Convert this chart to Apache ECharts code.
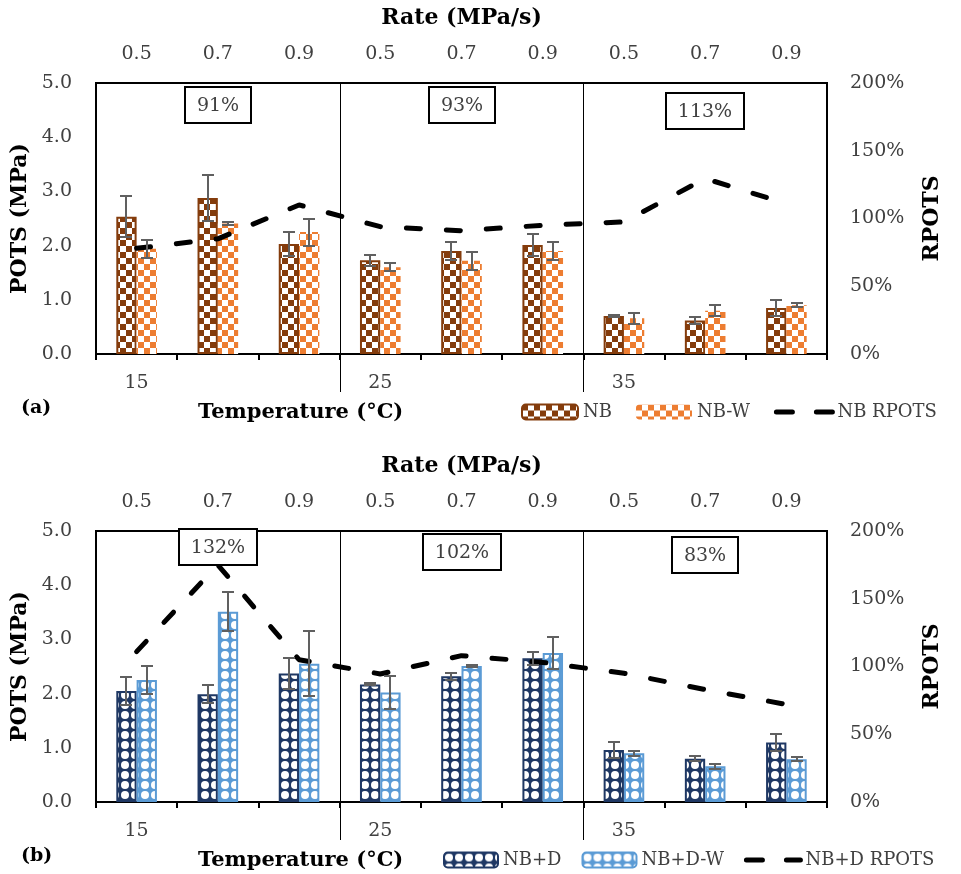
<!DOCTYPE html>
<html>
<head>
<meta charset="utf-8">
<script src="https://cdn.jsdelivr.net/npm/echarts@6/dist/echarts.min.js"></script>
<style>
html,body{margin:0;padding:0;background:#fff;}
#main{width:961px;height:874px;}
</style>
</head>
<body>
<div id="main"></div>
<script>
// ---------- data ----------
const categories = ['15-0.5','15-0.7','15-0.9','25-0.5','25-0.7','25-0.9','35-0.5','35-0.7','35-0.9'];
const rateLabels = ['0.5','0.7','0.9','0.5','0.7','0.9','0.5','0.7','0.9'];
const tempLabels = ['15','','','25','','','35','',''];
const groupStarts = [3, 6];

// (a)
const nbPots     = [2.53, 2.88, 2.03, 1.73, 1.90, 2.01, 0.70, 0.62, 0.85];
const nbPotsErr  = [0.38, 0.43, 0.23, 0.10, 0.17, 0.20, 0.02, 0.07, 0.14];
const nbwPots    = [1.94, 2.41, 2.25, 1.60, 1.72, 1.90, 0.66, 0.80, 0.90];
const nbwPotsErr = [0.16, 0.03, 0.25, 0.07, 0.17, 0.17, 0.10, 0.10, 0.04];
const nbRpots    = [78, 85, 110, 94, 91, 95, 97.5, 129.5, 111];
const boxA       = ['91%', '93%', '113%'];
const boxAIdx    = [1, 4, 7];
const boxAY      = [4.59, 4.59, 4.48];

// (b)
const nbdPots     = [2.05, 1.99, 2.37, 2.17, 2.32, 2.65, 0.96, 0.80, 1.10];
const nbdPotsErr  = [0.26, 0.17, 0.29, 0.02, 0.06, 0.12, 0.14, 0.05, 0.16];
const nbdwPots    = [2.25, 3.51, 2.55, 2.02, 2.51, 2.75, 0.90, 0.66, 0.79];
const nbdwPotsErr = [0.26, 0.36, 0.60, 0.31, 0.01, 0.30, 0.05, 0.05, 0.04];
const nbdRpots    = [111, 175, 105, 94.5, 108, 103, 95, 83, 72];
const boxB        = ['132%', '102%', '83%'];
const boxBIdx     = [1, 4, 7];
const boxBY       = [4.70, 4.61, 4.56];

const potsTicks = {min: 0, max: 5, interval: 1};
const rpotsTicks = {min: 0, max: 200, interval: 50};

// ---------- styles ----------
const SERIF = '"DejaVu Serif", "Liberation Serif", serif';
const LABEL_COLOR = '#404040';
const C_NB = '#843C0C', C_NBW = '#ED7D31', C_NBD = '#1F3864', C_NBDW = '#5B9BD5';
const ERR_COLOR = '#606060';
const BOX_FONT = '19px ' + SERIF;

function checker(color, s) {
  const c = document.createElement('canvas');
  c.width = 2 * s; c.height = 2 * s;
  const g = c.getContext('2d');
  g.fillStyle = '#fff'; g.fillRect(0, 0, 2 * s, 2 * s);
  g.fillStyle = color;
  g.fillRect(0, 0, s, s); g.fillRect(s, s, s, s);
  return {image: c, repeat: 'repeat'};
}
function dots(color, s) {
  const c = document.createElement('canvas');
  c.width = s; c.height = s;
  const g = c.getContext('2d');
  g.fillStyle = color; g.fillRect(0, 0, s, s);
  g.fillStyle = '#fff';
  g.beginPath(); g.arc(s / 2, s / 2, s * 0.40, 0, Math.PI * 2); g.fill();
  return {image: c, repeat: 'repeat'};
}
const measureCtx = document.createElement('canvas').getContext('2d');
function textWidth(t) { measureCtx.font = BOX_FONT; return measureCtx.measureText(t).width; }

const grids = [
  {left: 96, right: 134, top: 83, height: 271},
  {left: 96, right: 134, top: 531, height: 271}
];

function xAxesFor(gi) {
  return [
    { // bottom: temperature
      type: 'category', gridIndex: gi, data: categories, position: 'bottom',
      axisLine: {show: false}, axisTick: {show: false}, splitLine: {show: false},
      axisLabel: {interval: 0, margin: 20, fontFamily: SERIF, fontSize: 19, color: LABEL_COLOR,
                  formatter: (v, i) => tempLabels[i]}
    },
    { // top: rate
      type: 'category', gridIndex: gi, data: categories, position: 'top',
      name: 'Rate (MPa/s)', nameLocation: 'middle', nameGap: 54,
      nameTextStyle: {fontFamily: SERIF, fontSize: 22, fontWeight: 'bold', color: '#000'},
      axisLine: {show: false},
      axisTick: {show: true, inside: true, length: 6, lineStyle: {color: '#000', width: 2}},
      axisLabel: {interval: 0, margin: 19, fontFamily: SERIF, fontSize: 19, color: LABEL_COLOR,
                  formatter: (v, i) => rateLabels[i]},
      splitLine: {show: false}
    }
  ];
}
function yAxesFor(gi) {
  return [
    Object.assign({
      type: 'value', gridIndex: gi, position: 'left',
      name: 'POTS (MPa)', nameLocation: 'middle', nameGap: 56,
      nameTextStyle: {fontFamily: SERIF, fontSize: 22, fontWeight: 'bold', color: '#000'},
      axisLine: {show: false}, axisTick: {show: false}, splitLine: {show: false},
      axisLabel: {margin: 24, fontFamily: SERIF, fontSize: 19, color: LABEL_COLOR,
                  formatter: v => v.toFixed(1)}
    }, potsTicks),
    Object.assign({
      type: 'value', gridIndex: gi, position: 'right',
      name: 'RPOTS', nameLocation: 'middle', nameGap: 94,
      nameTextStyle: {fontFamily: SERIF, fontSize: 22, fontWeight: 'bold', color: '#000'},
      axisLine: {show: false}, axisTick: {show: false}, splitLine: {show: false},
      axisLabel: {margin: 23, fontFamily: SERIF, fontSize: 19, color: LABEL_COLOR,
                  formatter: v => v + '%'}
    }, rpotsTicks)
  ];
}

function barSeries(name, vals, gi, fill, border, bw) {
  return {
    name: name, type: 'bar', xAxisIndex: gi * 2, yAxisIndex: gi * 2,
    data: vals, barCategoryGap: '50%', barGap: '0%',
    itemStyle: {color: fill, borderColor: border, borderWidth: bw},
    emphasis: {disabled: true}, z: 2
  };
}
function errSeries(vals, errs, gi, side) {
  return {
    type: 'custom', xAxisIndex: gi * 2, yAxisIndex: gi * 2, z: 4, silent: true,
    data: vals.map((v, i) => [i, v, errs[i]]),
    renderItem: function (params, api) {
      const i = api.value(0), v = api.value(1), e = api.value(2);
      const band = api.size([1, 0])[0];
      const x = Math.round(api.coord([i, v])[0] + side * band * 0.125);
      const yt = Math.round(api.coord([i, v + e])[1]);
      const yb = Math.round(api.coord([i, v - e])[1]);
      const cw = 6;
      const st = {stroke: ERR_COLOR, lineWidth: 2};
      return {type: 'group', children: [
        {type: 'line', shape: {x1: x, y1: yt, x2: x, y2: yb}, style: st},
        {type: 'line', shape: {x1: x - cw, y1: yt, x2: x + cw, y2: yt}, style: st},
        {type: 'line', shape: {x1: x - cw, y1: yb, x2: x + cw, y2: yb}, style: st}
      ]};
    }
  };
}
function lineSeries(name, vals, gi) {
  return {
    name: name, type: 'line', xAxisIndex: gi * 2, yAxisIndex: gi * 2 + 1,
    data: vals, symbol: 'none', smooth: false, z: 3,
    lineStyle: {color: '#000', width: 5, type: [14, 26], cap: 'round'},
    itemStyle: {color: '#000'}
  };
}
function sepSeries(gi) {
  return {
    type: 'custom', xAxisIndex: gi * 2, yAxisIndex: gi * 2, z: 1, silent: true, clip: false,
    data: groupStarts.map(i => [i]),
    renderItem: function (params, api) {
      const i = api.value(0);
      const band = api.size([1, 0])[0];
      const x = Math.round(api.coord([i, 0])[0] - band / 2) + 0.5;
      const y0 = api.coord([i, potsTicks.max])[1];
      const y1 = api.coord([i, potsTicks.min])[1] + 38;
      return {type: 'line', shape: {x1: x, y1: y0, x2: x, y2: y1}, style: {stroke: '#000', lineWidth: 1}};
    }
  };
}
function boxSeries(labels, idx, ys, gi) {
  return {
    type: 'custom', xAxisIndex: gi * 2, yAxisIndex: gi * 2, z: 6, silent: true, clip: false,
    data: idx.map((i, k) => [i, ys[k], k]),
    renderItem: function (params, api) {
      const p = api.coord([api.value(0), api.value(1)]);
      const t = labels[api.value(2)];
      const w = Math.round(textWidth(t) + 24), h = 36;
      const x0 = Math.round(p[0] - w / 2), y0 = Math.round(p[1] - h / 2);
      return {type: 'group', children: [
        {type: 'rect', shape: {x: x0, y: y0, width: w, height: h},
         style: {fill: '#fff', stroke: '#000', lineWidth: 2}},
        {type: 'text', x: x0 + w / 2, y: y0 + h / 2 + 1,
         style: {text: t, font: BOX_FONT, fill: LABEL_COLOR, align: 'center', verticalAlign: 'middle'}}
      ]};
    }
  };
}

const pNB = checker(C_NB, 6), pNBW = checker(C_NBW, 6);
const pNBD = dots(C_NBD, 10), pNBDW = dots(C_NBDW, 10);

const legendText = {fontFamily: SERIF, fontSize: 18, color: LABEL_COLOR};
const hiddenSymbol = {color: 'rgba(0,0,0,0)', borderWidth: 0};
const legendDash = {type: [16, 24], width: 5, cap: 'round', color: '#000'};
function legendCfg(names, left, top, w, gap) {
  return {
    data: [names[0], names[1], {name: names[2], itemStyle: hiddenSymbol, lineStyle: legendDash}],
    left: left, top: top, width: 961 - left, padding: 0,
    itemWidth: w, itemHeight: 15, itemGap: gap, textStyle: legendText, selectedMode: false
  };
}

const option = {
  animation: false,
  backgroundColor: '#fff',
  title: [
    {text: 'Temperature (°C)', left: 193, top: 397, textStyle: {fontFamily: SERIF, fontSize: 21, fontWeight: 'bold', color: '#000'}},
    {text: '(a)', left: 16, top: 394, textStyle: {fontFamily: SERIF, fontSize: 19, fontWeight: 'bold', color: '#000'}},
    {text: 'Temperature (°C)', left: 193, top: 845, textStyle: {fontFamily: SERIF, fontSize: 21, fontWeight: 'bold', color: '#000'}},
    {text: '(b)', left: 16, top: 842, textStyle: {fontFamily: SERIF, fontSize: 19, fontWeight: 'bold', color: '#000'}}
  ],
  legend: [
    legendCfg(['NB', 'NB-W', 'NB RPOTS'], 521, 403, 56, 24),
    legendCfg(['NB+D', 'NB+D-W', 'NB+D RPOTS'], 443, 851, 54, 20)
  ],
  grid: grids.map(g => Object.assign({show: true, borderColor: '#000', borderWidth: 2, backgroundColor: 'transparent'}, g)),
  xAxis: [].concat(xAxesFor(0), xAxesFor(1)),
  yAxis: [].concat(yAxesFor(0), yAxesFor(1)),
  series: [
    sepSeries(0),
    barSeries('NB', nbPots, 0, pNB, C_NB, 2),
    barSeries('NB-W', nbwPots, 0, pNBW, C_NBW, 0),
    errSeries(nbPots, nbPotsErr, 0, -1),
    errSeries(nbwPots, nbwPotsErr, 0, 1),
    lineSeries('NB RPOTS', nbRpots, 0),
    boxSeries(boxA, boxAIdx, boxAY, 0),

    sepSeries(1),
    barSeries('NB+D', nbdPots, 1, pNBD, C_NBD, 2),
    barSeries('NB+D-W', nbdwPots, 1, pNBDW, C_NBDW, 2),
    errSeries(nbdPots, nbdPotsErr, 1, -1),
    errSeries(nbdwPots, nbdwPotsErr, 1, 1),
    lineSeries('NB+D RPOTS', nbdRpots, 1),
    boxSeries(boxB, boxBIdx, boxBY, 1)
  ]
};

const chart = echarts.init(document.getElementById('main'), null, {renderer: 'canvas'});
chart.setOption(option);
</script>
</body>
</html>
